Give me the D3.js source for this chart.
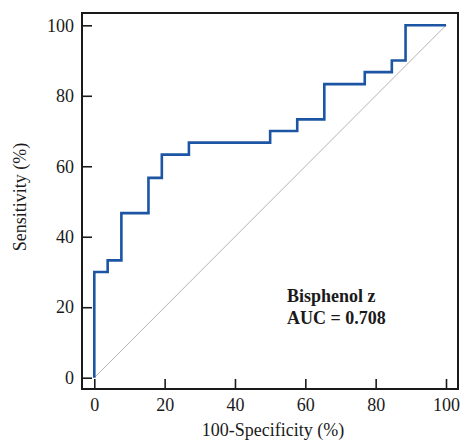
<!DOCTYPE html>
<html>
<head>
<meta charset="utf-8">
<script src="https://cdn.jsdelivr.net/npm/d3@7"></script>
<style>
  body { margin: 0; background: #fff; }
  svg text { font-family: "Liberation Serif", "Times New Roman", serif; fill: #1a1a1a; }
</style>
</head>
<body>
<script>
// ROC points (step curve, vertical move first)
let specificity = [0, 3.8, 7.7, 15.4, 19.2, 26.9, 50.0, 57.7, 65.4, 76.9, 84.6, 88.5, 100];
let sensitivity = [0, 30.0, 33.3, 46.7, 56.7, 63.3, 66.7, 70.0, 73.3, 83.3, 86.7, 90.0, 100];
let tickValues = [0, 20, 40, 60, 80, 100];
let labelName = "Bisphenol z";
let labelAuc = "AUC = 0.708";

let width = 463, height = 443;
let frame = {left: 82, top: 13, right: 458, bottom: 389};

let svg = d3.select("body").append("svg")
  .attr("width", width)
  .attr("height", height);

let x = d3.scaleLinear().domain([0, 100]).range([94.3, 446]);
let y = d3.scaleLinear().domain([0, 100]).range([377.7, 25.3]);

// reference diagonal
svg.append("line")
  .attr("x1", x(0)).attr("y1", y(0))
  .attr("x2", x(100)).attr("y2", y(100))
  .attr("stroke", "#b4b4b4")
  .attr("stroke-width", 1);

// ROC curve
let points = specificity.map(function(s, i) { return [s, sensitivity[i]]; });
let line = d3.line()
  .x(function(d) { return x(d[0]); })
  .y(function(d) { return y(d[1]); })
  .curve(d3.curveStepBefore);

svg.append("path")
  .datum(points)
  .attr("d", line)
  .attr("fill", "none")
  .attr("stroke", "#1c55a3")
  .attr("stroke-width", 2.6);

// axes
let yaxis = svg.append("g")
  .attr("transform", "translate(" + frame.left + ",0)")
  .call(d3.axisLeft(y).tickValues(tickValues).tickSize(-10).tickPadding(8));
let xaxis = svg.append("g")
  .attr("transform", "translate(0," + frame.bottom + ")")
  .call(d3.axisBottom(x).tickValues(tickValues).tickSize(-10).tickPadding(9));

[xaxis, yaxis].forEach(function(g) {
  g.select(".domain").remove();
  g.selectAll(".tick line").attr("stroke", "#1a1a1a").attr("stroke-width", 1.6);
  g.selectAll(".tick text")
    .attr("font-family", "Liberation Serif")
    .attr("font-size", 18)
    .attr("fill", "#1a1a1a");
});

// frame
svg.append("rect")
  .attr("x", frame.left).attr("y", frame.top)
  .attr("width", frame.right - frame.left)
  .attr("height", frame.bottom - frame.top)
  .attr("fill", "none")
  .attr("stroke", "#1a1a1a")
  .attr("stroke-width", 2);

// axis titles
svg.append("text")
  .attr("x", 273).attr("y", 436)
  .attr("text-anchor", "middle")
  .attr("font-size", 18)
  .text("100-Specificity (%)");

svg.append("text")
  .attr("transform", "translate(26,197) rotate(-90)")
  .attr("text-anchor", "middle")
  .attr("font-size", 18)
  .text("Sensitivity (%)");

// annotation
svg.append("text")
  .attr("x", 287).attr("y", 302)
  .attr("font-size", 18)
  .attr("font-weight", "bold")
  .text(labelName);
svg.append("text")
  .attr("x", 287).attr("y", 324)
  .attr("font-size", 18)
  .attr("font-weight", "bold")
  .text(labelAuc);
</script>
</body>
</html>
